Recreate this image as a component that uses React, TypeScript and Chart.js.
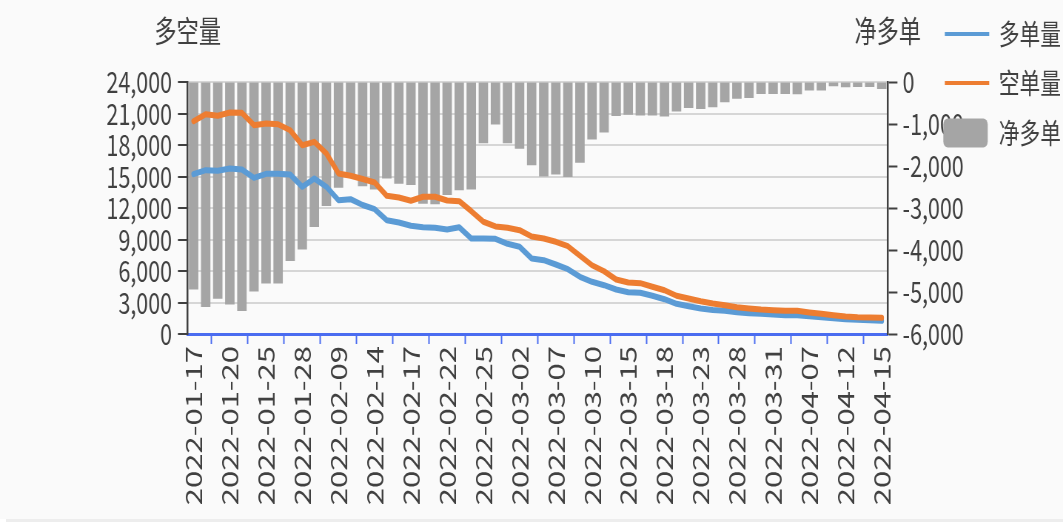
import React, { useEffect, useRef } from 'react';
import { Chart, registerables } from 'chart.js';

Chart.register(...registerables);

// ---------------- data ----------------
const categories = [
  '2022-01-17', '2022-01-18', '2022-01-19', '2022-01-20', '2022-01-21', '2022-01-24', '2022-01-25', '2022-01-26', '2022-01-27', '2022-01-28',
  '2022-02-07', '2022-02-08', '2022-02-09', '2022-02-10', '2022-02-11', '2022-02-14', '2022-02-15', '2022-02-16', '2022-02-17', '2022-02-18',
  '2022-02-21', '2022-02-22', '2022-02-23', '2022-02-24', '2022-02-25', '2022-02-28', '2022-03-01', '2022-03-02', '2022-03-03', '2022-03-04',
  '2022-03-07', '2022-03-08', '2022-03-09', '2022-03-10', '2022-03-11', '2022-03-14', '2022-03-15', '2022-03-16', '2022-03-17', '2022-03-18',
  '2022-03-21', '2022-03-22', '2022-03-23', '2022-03-24', '2022-03-25', '2022-03-28', '2022-03-29', '2022-03-30', '2022-03-31', '2022-04-01',
  '2022-04-06', '2022-04-07', '2022-04-08', '2022-04-11', '2022-04-12', '2022-04-13', '2022-04-14', '2022-04-15',
];

// 多单量 (left axis)
const longVolume = [
  15219, 15600, 15543, 15762, 15667, 14876, 15257, 15257, 15190, 14019,
  14810, 14019, 12743, 12838, 12286, 11886, 10838, 10619, 10305, 10171,
  10114, 9952, 10171, 9095, 9095, 9067, 8590, 8305, 7190, 7029,
  6619, 6171, 5448, 4971, 4648, 4238, 3981, 3924, 3638, 3314,
  2876, 2648, 2429, 2286, 2210, 2076, 1981, 1924, 1857, 1790,
  1790, 1695, 1600, 1505, 1410, 1352, 1314, 1257,
];

// 空单量 (left axis)
const shortVolume = [
  20270, 20930, 20780, 21100, 21070, 19890, 20050, 19980, 19410, 17980,
  18300, 17190, 15290, 15070, 14760, 14430, 13160, 13000, 12690, 13070,
  13070, 12710, 12650, 11700, 10690, 10240, 10110, 9890, 9290, 9100,
  8780, 8360, 7450, 6550, 5980, 5190, 4900, 4840, 4500, 4170,
  3640, 3380, 3120, 2900, 2740, 2550, 2430, 2330, 2270, 2210,
  2210, 2050, 1920, 1790, 1670, 1600, 1570, 1540,
];

// 净多单 (right axis)
const netLong = [
  -4940, -5360, -5160, -5300, -5450, -4990, -4800, -4800, -4260, -3990,
  -3450, -2950, -2520, -2230, -2480, -2560, -2300, -2420, -2450, -2900,
  -2910, -2690, -2580, -2560, -1460, -1010, -1460, -1590, -1980, -2250,
  -2200, -2260, -1920, -1370, -1200, -810, -780, -800, -800, -820,
  -700, -620, -640, -600, -480, -400, -380, -285, -285, -285,
  -290, -200, -200, -100, -125, -120, -120, -165,
];

const seriesNames = ['多单量', '空单量', '净多单'];
const leftAxisTitle = '多空量';
const rightAxisTitle = '净多单';
const leftAxisRange = [0, 24000, 3000];
const rightAxisRange = [-6000, 0, 1000];
const labelEvery = 3;

// ---------------- style ----------------
const W = 1063;
const H = 531;
const SQUEEZE = 0.74;
const IW = Math.round(W / SQUEEZE);
const FONT = '"Noto Sans CJK SC", "Noto Sans", sans-serif';
const TEXT = '#404040';
const BLUE_AXIS = '#4a6cf0';
const C_LONG = '#5b9bd5';
const C_SHORT = '#ed7d31';
const C_NET = '#a5a5a5';

Chart.defaults.font.family = FONT;

const overlayPlugin = {
  id: 'overlayTitlesLegend',
  afterDraw(chart: any) {
    const { ctx, chartArea } = chart;
    ctx.save();
    ctx.fillStyle = TEXT;
    ctx.font = `30px ${FONT}`;
    ctx.textAlign = 'center';
    ctx.textBaseline = 'middle';
    ctx.fillText(leftAxisTitle, chartArea.left, 31);
    ctx.fillText(rightAxisTitle, chartArea.right, 31);

    // legend
    const lx = chartArea.right + 77;
    const sw = 60;
    const tx = lx + sw + 13;
    const rows = [34, 83, 133];
    chart.data.datasets.forEach((ds: any, k: number) => {
      const y = rows[k];
      if (ds.type === 'line') {
        ctx.strokeStyle = ds.borderColor;
        ctx.lineWidth = 4;
        ctx.beginPath();
        ctx.moveTo(lx, y);
        ctx.lineTo(lx + sw, y);
        ctx.stroke();
      } else {
        ctx.fillStyle = ds.backgroundColor;
        ctx.beginPath();
        (ctx as any).roundRect(lx - 2, y - 14.5, sw, 29, 6);
        ctx.fill();
      }
      ctx.fillStyle = TEXT;
      ctx.font = `28px ${FONT}`;
      ctx.textAlign = 'left';
      ctx.textBaseline = 'middle';
      ctx.fillText(ds.label, tx, y);
    });
    ctx.restore();
  },
};

export default function App() {
  const ref = useRef<HTMLCanvasElement | null>(null);

  useEffect(() => {
    if (!ref.current) return;
    const chart = new Chart(ref.current, {
      type: 'bar',
      data: {
        labels: categories,
        datasets: [
          {
            type: 'line',
            label: seriesNames[0],
            data: longVolume,
            yAxisID: 'y',
            borderColor: C_LONG,
            backgroundColor: C_LONG,
            borderWidth: 6,
            pointRadius: 0,
            tension: 0,
            borderJoinStyle: 'round',
            borderCapStyle: 'round',
            order: 1,
          } as any,
          {
            type: 'line',
            label: seriesNames[1],
            data: shortVolume,
            yAxisID: 'y',
            borderColor: C_SHORT,
            backgroundColor: C_SHORT,
            borderWidth: 6,
            pointRadius: 0,
            tension: 0,
            borderJoinStyle: 'round',
            borderCapStyle: 'round',
            order: 0,
          } as any,
          {
            type: 'bar',
            label: seriesNames[2],
            data: netLong,
            yAxisID: 'y1',
            backgroundColor: C_NET,
            barPercentage: 0.78,
            categoryPercentage: 1,
            order: 2,
          } as any,
        ],
      },
      options: {
        responsive: false,
        animation: false,
        devicePixelRatio: 1,
        events: [],
        layout: { padding: { top: 82, left: 0, right: 0, bottom: 0 } },
        plugins: { legend: { display: false }, tooltip: { enabled: false } },
        scales: {
          x: {
            type: 'category',
            offset: true,
            grid: {
              offset: true,
              drawOnChartArea: false,
              drawTicks: true,
              tickLength: 10,
              tickWidth: 2,
              tickColor: (c: any) => (c.index % labelEvery === labelEvery - 1 ? BLUE_AXIS : 'rgba(0,0,0,0)'),
            },
            border: { display: true, color: BLUE_AXIS, width: 3 },
            ticks: {
              autoSkip: false,
              maxRotation: 90,
              minRotation: 90,
              padding: 2,
              color: TEXT,
              font: { size: 31 },
              callback: (_v: any, i: number) => (i % labelEvery === 0 ? categories[i] : ''),
            },
            afterFit: (s: any) => {
              s.height = H - 334;
            },
          },
          y: {
            position: 'left',
            min: leftAxisRange[0],
            max: leftAxisRange[1],
            ticks: { autoSkip: false, stepSize: leftAxisRange[2], color: TEXT, font: { size: 29 }, padding: 8 },
            grid: {
              color: (c: any) => (c.tick && c.tick.value === 0 ? 'rgba(0,0,0,0)' : '#d6d6d6'),
              lineWidth: 2,
              tickColor: TEXT,
              tickLength: 13,
              tickWidth: 2,
            },
            border: { display: true, color: TEXT, width: 2.5 },
            afterFit: (s: any) => {
              s.width = 187.5 / SQUEEZE;
            },
          },
          y1: {
            position: 'right',
            min: rightAxisRange[0],
            max: rightAxisRange[1],
            ticks: { autoSkip: false, stepSize: rightAxisRange[2], color: TEXT, font: { size: 29 }, padding: 7 },
            grid: {
              drawOnChartArea: false,
              tickColor: TEXT,
              tickLength: 13,
              tickWidth: 2,
            },
            border: { display: true, color: TEXT, width: 2.5 },
            afterFit: (s: any) => {
              s.width = IW - 887.5 / SQUEEZE;
            },
          },
        },
      } as any,
      plugins: [overlayPlugin],
    });
    return () => chart.destroy();
  }, []);

  return (
    <div style={{ position: 'fixed', left: 0, top: 0, width: W, height: H, background: '#ffffff', overflow: 'hidden' }}>
      <div style={{ position: 'absolute', left: 0, top: 0, width: W, height: 519, background: '#fafafa' }} />
      <div style={{ position: 'absolute', left: 6, top: 519, width: W - 6, height: 3, background: '#ededed' }} />
      <canvas
        ref={ref}
        width={IW}
        height={H}
        style={{ position: 'absolute', left: 0, top: 0, width: `${W}px`, height: `${H}px`, display: 'block' }}
      />
    </div>
  );
}
